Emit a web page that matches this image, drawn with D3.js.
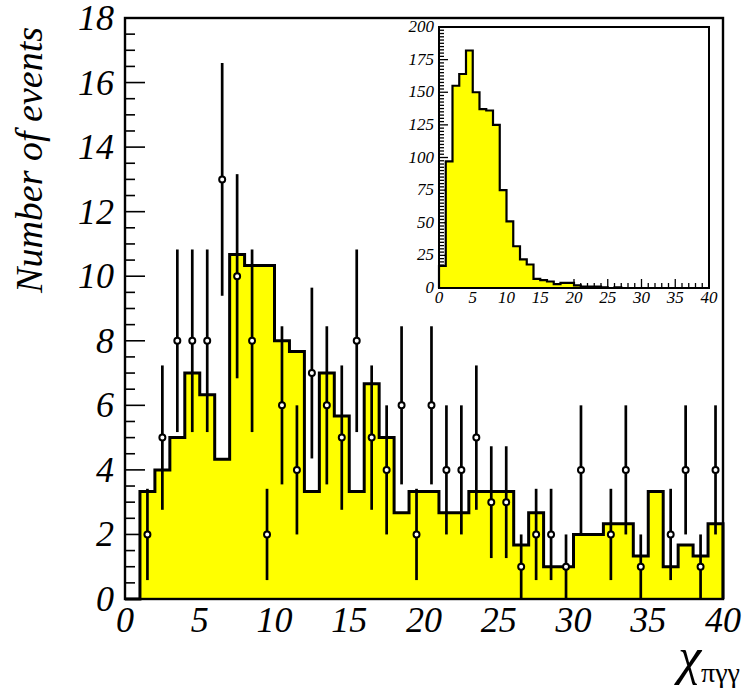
<!DOCTYPE html>
<html>
<head>
<meta charset="utf-8">
<script src="https://cdn.jsdelivr.net/npm/d3@7"></script>
<style>
  body { margin: 0; background: #fff; }
</style>
</head>
<body>
<svg id="fig" width="745" height="689"></svg>
<script>
// bins are 1 unit wide, from 0 to 40
const binEdges = d3.range(0, 41);

// expected (scaled MC) histogram, one value per bin
const mcCounts = [0, 3.33, 4, 5, 7, 6.33, 4.33, 10.67, 10.33, 10.33,
                  8, 7.67, 3.33, 7, 5.67, 3.33, 6.67, 5, 2.67, 3.33,
                  3.33, 2.67, 2.67, 3.33, 3.33, 3.33, 1.67, 2.67, 1, 1,
                  2, 2, 2.33, 2.33, 1.33, 3.33, 1, 1.67, 1.33, 2.33];

// observed events per bin
const dataCounts = [0, 2, 5, 8, 8, 8, 13, 10, 8, 2,
                    6, 4, 7, 6, 5, 8, 5, 4, 6, 2,
                    6, 4, 4, 5, 3, 3, 1, 2, 2, 1,
                    4, 0, 2, 4, 1, 0, 2, 4, 1, 4];

// inset: full MC sample
const insetCounts = [17, 97, 155, 164, 182, 150, 137, 136, 125, 75,
                     51, 32, 22, 18, 7, 6, 5, 3, 4, 4,
                     2, 1, 1, 1, 0.5, 0, 0.5, 0, 0, 0,
                     0, 0, 0, 0, 0, 0, 0, 0, 0, 0];

const xTicks = [0, 5, 10, 15, 20, 25, 30, 35, 40];
const yTicks = [0, 2, 4, 6, 8, 10, 12, 14, 16, 18];
const insetYTicks = [0, 25, 50, 75, 100, 125, 150, 175, 200];

const svg = d3.select('#fig');
const ink = '#000', fill = '#ffff00';
const serif = '"Liberation Serif", "Times New Roman", Times, serif';

// main frame
const x = d3.scaleLinear().domain([0, 40]).range([125, 723]);
const y = d3.scaleLinear().domain([0, 18]).range([599, 18]);

function steps(counts) {
  const pts = [[binEdges[0], 0]];
  counts.forEach((c, i) => { pts.push([binEdges[i], c], [binEdges[i + 1], c]); });
  pts.push([binEdges[counts.length], 0]);
  return pts;
}

function label(g, tx, ty, txt, size, anchor) {
  return g.append('text')
    .attr('x', tx).attr('y', ty)
    .attr('font-family', serif).attr('font-style', 'italic')
    .attr('font-size', size).attr('text-anchor', anchor)
    .text(txt);
}

// y ticks (major every 2, minor every 0.5)
const main = svg.append('g');
d3.range(0, 18.01, 0.5).forEach(v => {
  const major = Math.abs(v % 2) < 1e-6;
  main.append('line')
    .attr('x1', x(0)).attr('x2', x(0) + (major ? 20 : 10))
    .attr('y1', y(v)).attr('y2', y(v))
    .attr('stroke', ink).attr('stroke-width', 1.6);
});
// x ticks, mostly hidden under the fill
d3.range(0, 40.01, 1).forEach(v => {
  const major = v % 5 === 0;
  main.append('line')
    .attr('x1', x(v)).attr('x2', x(v))
    .attr('y1', y(0)).attr('y2', y(0) - (major ? 16 : 8))
    .attr('stroke', ink).attr('stroke-width', 1.6);
});

const pts = steps(mcCounts);
main.append('path')
  .attr('d', d3.area().x(d => x(d[0])).y0(y(0)).y1(d => y(d[1]))(pts))
  .attr('fill', fill);
main.append('path')
  .attr('d', d3.line().x(d => x(d[0])).y(d => y(d[1]))(pts))
  .attr('fill', 'none').attr('stroke', ink).attr('stroke-width', 3)
  .attr('stroke-linejoin', 'miter');

// data points with sqrt(n) error bars
dataCounts.forEach((n, i) => {
  if (n <= 0) return;
  const cx = x((binEdges[i] + binEdges[i + 1]) / 2);
  const e = Math.sqrt(n);
  main.append('line')
    .attr('x1', cx).attr('x2', cx)
    .attr('y1', y(n - e)).attr('y2', y(n + e))
    .attr('stroke', ink).attr('stroke-width', 2.7);
  main.append('circle')
    .attr('cx', cx).attr('cy', y(n)).attr('r', 3)
    .attr('fill', '#fff').attr('stroke', ink).attr('stroke-width', 2);
});

main.append('rect')
  .attr('x', x(0)).attr('y', y(18))
  .attr('width', x(40) - x(0)).attr('height', y(0) - y(18))
  .attr('fill', 'none').attr('stroke', ink).attr('stroke-width', 2.4);

// tick labels
yTicks.forEach(v => label(main, 114, y(v) + 12, v, 36, 'end'));
xTicks.forEach(v => label(main, x(v), 632, v, 36, 'middle'));

// axis titles
label(svg, 0, 0, 'Number of events', 38, 'middle')
  .attr('transform', 'translate(42,160) rotate(-90)');
const xt = svg.append('text')
  .attr('x', 740).attr('y', 674)
  .attr('font-family', serif).attr('text-anchor', 'end');
xt.append('tspan').attr('font-size', 52).attr('font-style', 'italic').text('χ');
xt.append('tspan').attr('font-size', 28).attr('dy', 8).text('πγγ');

// ---- inset ----
const ix = d3.scaleLinear().domain([0, 40]).range([439, 709]);
const iy = d3.scaleLinear().domain([0, 200]).range([288, 27]);
const ins = svg.append('g');

ins.append('rect')
  .attr('x', ix(0)).attr('y', iy(200))
  .attr('width', ix(40) - ix(0)).attr('height', iy(0) - iy(200))
  .attr('fill', '#fff');

d3.range(0, 200.01, 2.5).forEach(v => {
  const major = v % 25 === 0;
  ins.append('line')
    .attr('x1', ix(0)).attr('x2', ix(0) + (major ? 9 : 5))
    .attr('y1', iy(v)).attr('y2', iy(v))
    .attr('stroke', ink).attr('stroke-width', 1.3);
});
d3.range(0, 40.01, 1).forEach(v => {
  const major = v % 5 === 0;
  ins.append('line')
    .attr('x1', ix(v)).attr('x2', ix(v))
    .attr('y1', iy(0)).attr('y2', iy(0) - (major ? 9 : 5))
    .attr('stroke', ink).attr('stroke-width', 1.3);
});

const ipts = steps(insetCounts);
ins.append('path')
  .attr('d', d3.area().x(d => ix(d[0])).y0(iy(0)).y1(d => iy(d[1]))(ipts))
  .attr('fill', fill);
ins.append('path')
  .attr('d', d3.line().x(d => ix(d[0])).y(d => iy(d[1]))(ipts))
  .attr('fill', 'none').attr('stroke', ink).attr('stroke-width', 2.2);

ins.append('rect')
  .attr('x', ix(0)).attr('y', iy(200))
  .attr('width', ix(40) - ix(0)).attr('height', iy(0) - iy(200))
  .attr('fill', 'none').attr('stroke', ink).attr('stroke-width', 2);

insetYTicks.forEach(v => label(ins, 434, iy(v) + 5, v, 17, 'end'));
xTicks.forEach(v => label(ins, ix(v), 303, v, 17, 'middle'));
</script>
</body>
</html>
